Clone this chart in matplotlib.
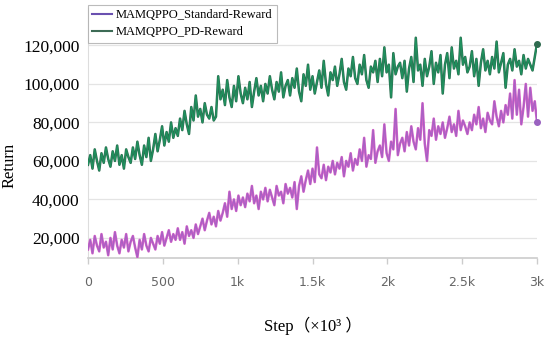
import numpy as np
import matplotlib
matplotlib.use("Agg")
from matplotlib import pyplot as plt
from matplotlib.ticker import FuncFormatter

# steps 0..3000, one point every 15 steps
steps = np.arange(0, 3001, 15)

# returns in thousands
pd_reward_k = [
    58, 63, 56, 66, 60, 55, 64, 59, 67, 61,
    57, 65, 60, 68, 58, 63, 56, 66, 62, 59,
    67, 61, 70, 63, 58, 68, 62, 72, 60, 66,
    74, 65, 71, 78, 68, 75, 70, 80, 72, 77,
    73, 82, 76, 86, 79, 74, 88, 81, 94, 83,
    87, 80, 90, 84, 82, 88, 81, 83, 104, 92,
    97, 89, 102, 93, 88, 99, 91, 104, 95, 90,
    98, 92, 101, 88, 96, 103, 94, 99, 91, 100,
    95, 104, 97, 92, 101, 96, 106, 93, 99, 102,
    94, 103, 98, 108, 96, 91, 105, 99, 110, 97,
    104, 95, 101, 107, 98, 112, 100, 94, 106, 102,
    109, 99, 105, 113, 101, 97, 108, 104, 114, 103,
    100, 110, 105, 115, 102, 98, 109, 106, 112, 101,
    113, 104, 119, 106, 110, 93, 116, 105, 109, 111,
    103, 112, 96, 108, 114, 101, 124, 107, 110, 99,
    113, 104, 109, 117, 100, 111, 106, 115, 95, 110,
    116, 103, 119, 108, 112, 105, 124, 110, 114, 106,
    109, 117, 104, 113, 99, 111, 118, 107, 112, 105,
    114, 108, 122, 106, 111, 116, 98, 110, 113, 107,
    118, 109, 112, 105, 115, 108, 113, 110, 107, 114,
    121,
]

std_reward_k = [
    14, 19, 12, 21, 16, 13, 22, 15, 18, 11,
    20, 14, 23, 16, 12, 19, 15, 22, 13, 18,
    21, 15, 10, 19, 14, 22, 16, 13, 20, 17,
    14, 21, 17, 23, 16, 20, 24, 18, 22, 19,
    25, 19, 23, 17, 26, 21, 24, 20, 27, 22,
    26, 30, 24, 29, 33, 27, 31, 26, 34, 29,
    33, 38, 31, 44, 35, 40, 34, 42, 37, 41,
    36, 43, 39, 47, 38, 42, 35, 44, 40, 46,
    39, 45, 41, 37, 47, 42, 44, 38, 48, 43,
    46, 41, 49, 35, 47, 52, 44, 50, 55, 48,
    56, 49, 67, 53, 51, 58, 50, 57, 54, 60,
    53, 59, 56, 62, 52, 60, 57, 64, 55, 61,
    58, 66, 60, 72, 57, 63, 61, 76, 59, 65,
    68, 62, 79, 64, 60, 70, 66, 87, 63, 69,
    72, 65, 75, 68, 78, 70, 66, 77, 71, 90,
    69, 60, 76, 73, 82, 71, 78, 74, 80, 72,
    77, 83, 75, 79, 73, 86, 76, 81, 78, 74,
    80, 76, 84, 79, 88, 77, 82, 75, 85, 81,
    79, 91, 83, 78, 86, 80, 89, 84, 95, 82,
    102, 84, 97, 79, 88, 100, 83, 98, 86, 91,
    80,
]

pd_reward = np.array(pd_reward_k) * 1000
std_reward = np.array(std_reward_k) * 1000

xticks = [0, 500, 1000, 1500, 2000, 2500, 3000]
xtick_labels = ["0", "500", "1k", "1.5k", "2k", "2.5k", "3k"]
yticks = [20000, 40000, 60000, 80000, 100000, 120000]

serif = ["Liberation Serif", "Noto Sans CJK SC"]

fig = plt.figure(figsize=(5.5, 3.43), dpi=100)
ax = fig.add_axes([0.16, 0.248, 0.8164, 0.729])

# standard reward: pink with purple over it
ax.plot(steps, std_reward, color="#d65fc8", lw=1.8, zorder=3)
ax.plot(steps, std_reward, color="#9462c2", lw=0.9, alpha=0.7, zorder=3)
# pd reward: dark green with brighter green over it
ax.plot(steps, pd_reward, color="#2c6e50", lw=1.8, zorder=3)
ax.plot(steps, pd_reward, color="#1c9a62", lw=0.9, alpha=0.8, zorder=3)

ax.plot(steps[-1], std_reward[-1], "o", color="#9a62c0", ms=4, clip_on=False, zorder=4)
ax.plot(steps[-1], pd_reward[-1], "o", color="#2f6b4f", ms=4, clip_on=False, zorder=4)

# legend proxies
ax.plot([], [], color="#6a50b0", lw=1.5, label="MAMQPPO_Standard-Reward")
ax.plot([], [], color="#3d6b55", lw=1.5, label="MAMQPPO_PD-Reward")
handles, labels = ax.get_legend_handles_labels()
leg = ax.legend(handles, labels, loc="upper left", bbox_to_anchor=(0.0, 1.012),
                prop={"family": serif, "size": 9}, frameon=True, fancybox=False,
                edgecolor="#aaaaaa", handlelength=1.6, handletextpad=0.3,
                labelspacing=0.4, borderpad=0.35, borderaxespad=0.0)
leg.get_frame().set_linewidth(0.8)

ax.set_xlim(0, 3000)
ax.set_ylim(9600, 139500)
ax.set_xticks(xticks)
ax.set_xticklabels(xtick_labels)
ax.set_yticks(yticks)
ax.yaxis.set_major_formatter(FuncFormatter(lambda v, p: f"{int(v):,}"))

ax.grid(axis="y", color="#e4e4e4", lw=0.9)
ax.set_axisbelow(True)
for s in ["top", "right"]:
    ax.spines[s].set_visible(False)
ax.spines["left"].set_color("#dddddd")
ax.spines["bottom"].set_color("#cccccc")
ax.spines["bottom"].set_linewidth(1.2)

ax.tick_params(axis="x", length=4, width=1, color="#cccccc", labelcolor="#666666",
               labelsize=9, pad=9)
ax.tick_params(axis="y", length=0, pad=6, labelsize=12.5)
for t in ax.get_yticklabels():
    t.set_family(serif)

ax.set_ylabel("Return", family=serif, fontsize=12)
ax.yaxis.set_label_coords(-0.156, 0.37)
ax.set_xlabel("Step（×10³ ）", family=serif, fontsize=12, labelpad=20)

fig.savefig("out.png", dpi=100)
